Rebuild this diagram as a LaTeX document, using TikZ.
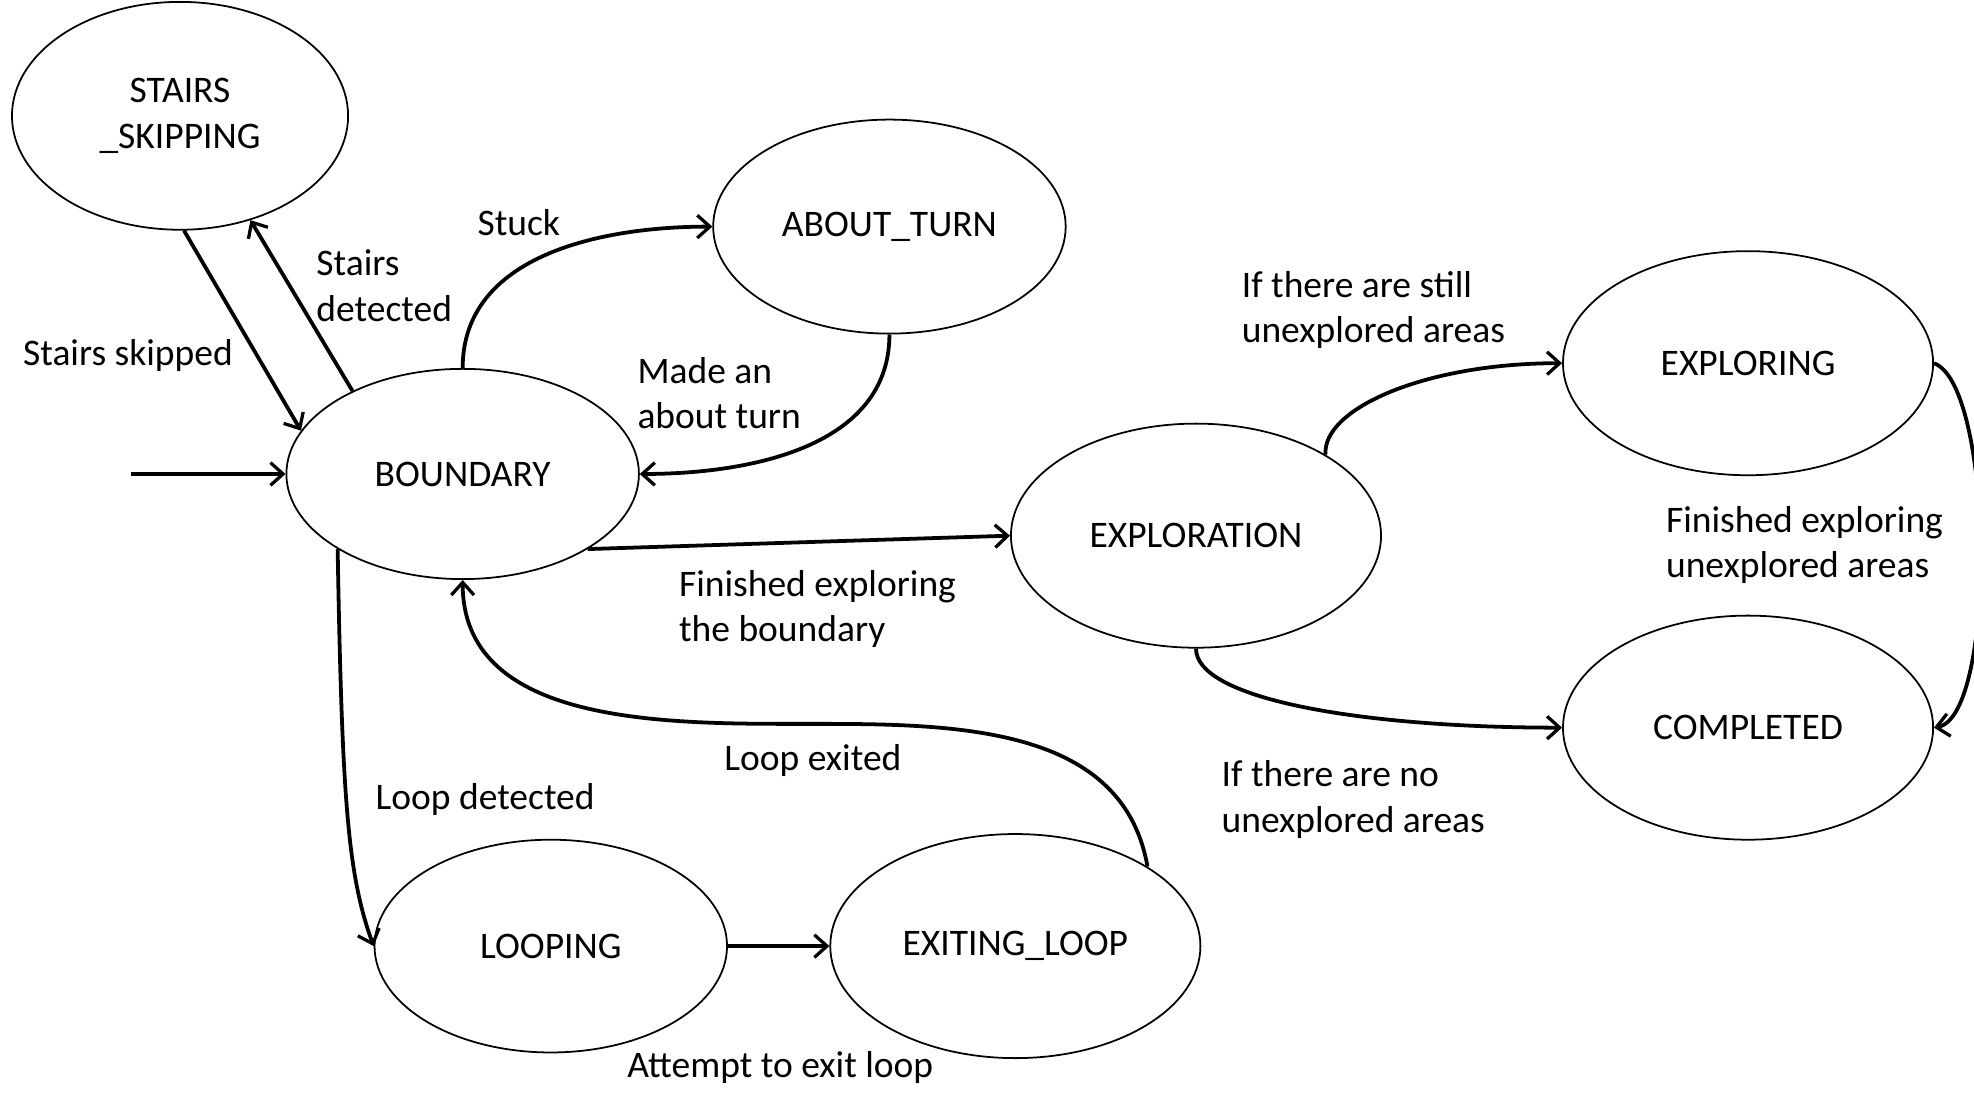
\documentclass[tikz,border=0pt]{standalone}
\usepackage{fontspec}
\setmainfont{Carlito}
\usetikzlibrary{shapes.geometric,arrows.meta}

\begin{document}
\begin{tikzpicture}[
    x=0.5pt, y=-0.5pt,
    font=\fontsize{14.9}{18}\selectfont,
    state/.style = {draw, ellipse, line width=0.7pt, inner sep=0pt, align=center,
      minimum width=140pt, minimum height=85pt},
    wide/.style = {minimum width=147pt, minimum height=89pt},
    trans/.style = {line width=1.5pt, -{Straight Barb[length=5pt,width=9pt,line width=1.3pt]}},
    lbl/.style = {anchor=west, align=left, inner sep=0pt, yshift=-1pt}
  ]
    \useasboundingbox (0,0) rectangle (1568,881);
    % states
    \node[state, minimum width=133.5pt, minimum height=90.5pt] (stairs) at (143,92) {STAIRS\\\_SKIPPING};
    \node[state, minimum height=83.5pt] (bound) at (367.5,376.5) {BOUNDARY};
    \node[state] (about) at (706.5,180) {ABOUT\_TURN};
    \node[state, wide] (explor) at (950,425.5) {EXPLORATION};
    \node[state, wide] (exploring) at (1388.5,288.5) {EXPLORING};
    \node[state, wide] (completed) at (1388.5,578) {COMPLETED};
    \node[state, minimum height=84.5pt] (looping) at (437.5,751.5) {LOOPING};
    \node[state, wide] (exiting) at (806.5,751.5) {EXITING\_LOOP};
    \coordinate (start) at (104,376.5);
    \coordinate (loopmid) at (630,575);
    % transitions
    \draw[trans] (start) -- (bound.west);
    \draw[trans] (stairs.-88) -- (bound.165);
    \draw[trans] (bound.143) -- (stairs.-56);
    \draw[trans] (bound.north) to [out=90,in=180] (about.west);
    \draw[trans] (about.south) to [out=-90,in=0] (bound.east);
    \draw[trans] (bound.-31) -- (explor.west);
    \draw[trans] (explor.32) to [out=95,in=180,out distance=18pt,in distance=55pt] (exploring.west);
    \draw[trans] (explor.south) to [out=-90,in=180,out distance=20pt,in distance=80pt] (completed.west);
    \draw[trans] (exploring.east) to [out=-20,in=10,looseness=0.45] (completed.east);
    \draw[trans] (bound.-149) to [out=-89,in=110,out distance=100pt,in distance=30pt] (looping.west);
    \draw[trans] (looping.east) -- (exiting.west);
    \draw[trans] (exiting.31) to [out=100,in=0] (loopmid) to [out=180,in=-90] (bound.south);
    % labels
    \node[lbl] (lstuck) at (379,175) {Stuck};
    \node[lbl] (lstairsdet) at (251,225) {Stairs\\detected};
    \node[lbl] (lstairsskip) at (18,280) {Stairs skipped};
    \node[lbl] (lmade) at (506,310) {Made an\\about turn};
    \node[lbl] (lstill) at (986,244) {If there are still\\unexplored areas};
    \node[lbl] (lfinexp) at (1323,431) {Finished exploring\\unexplored areas};
    \node[lbl] (lfinbound) at (539,482) {Finished exploring\\the boundary};
    \node[lbl] (lnoarea) at (970,633) {If there are no\\unexplored areas};
    \node[lbl] (lexited) at (575,602) {Loop exited};
    \node[lbl] (ldetect) at (298,633) {Loop detected};
    \node[lbl] (lattempt) at (498,846) {Attempt to exit loop};
\end{tikzpicture}
\end{document}
